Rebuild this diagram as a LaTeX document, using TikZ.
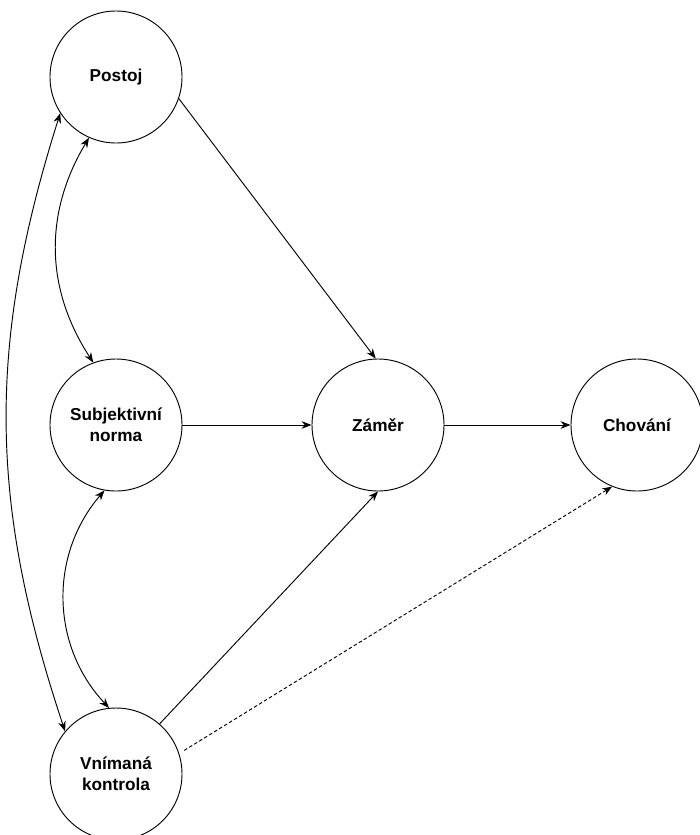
\documentclass[tikz,border=0pt]{standalone}
\usepackage{fontspec}
\setmainfont{Liberation Sans}
\usetikzlibrary{arrows.meta}

\begin{document}
\begin{tikzpicture}[x=0.03cm,y=0.03cm]
\tikzstyle{construct}=[draw, circle, line width=0.8pt, minimum size=3.96cm, inner sep=0pt, align=center, font=\bfseries\fontsize{14.7}{17.9}\selectfont]
\tikzstyle{link}=[line width=0.8pt, -{Stealth[length=8.5pt,width=6.5pt]}]
\tikzstyle{both}=[line width=0.8pt, {Stealth[length=8.5pt,width=6.5pt]}-{Stealth[length=8.5pt,width=6.5pt]}]
\useasboundingbox (0,0) rectangle (700,-835);
% constructs
\node [construct] (postoj) at (116,-77) {Postoj};
\node [construct] (norma) at (116,-425) {Subjektivní\\norma};
\node [construct] (zamer) at (378,-425) {Záměr};
\node [construct] (chovani) at (637,-425) {Chování};
\node [construct] (kontrola) at (116,-774) {Vnímaná\\kontrola};
% paths
\draw [link] (postoj.-19) -- (zamer.92);
\draw [link] (norma) -- (zamer);
\draw [link] (zamer) -- (chovani);
\draw [link] (kontrola.49) -- (zamer.south);
\draw [link, dash pattern=on 3pt off 2pt, shorten <=5pt] (kontrola.18) -- (chovani.248);
% correlations
\draw [both] (postoj.246) to[bend right=32] (norma.110);
\draw [both] (norma.260) to[bend right=42] (kontrola.96);
\draw [both] (postoj.213) to[bend right=18] (kontrola.140);
\end{tikzpicture}
\end{document}
